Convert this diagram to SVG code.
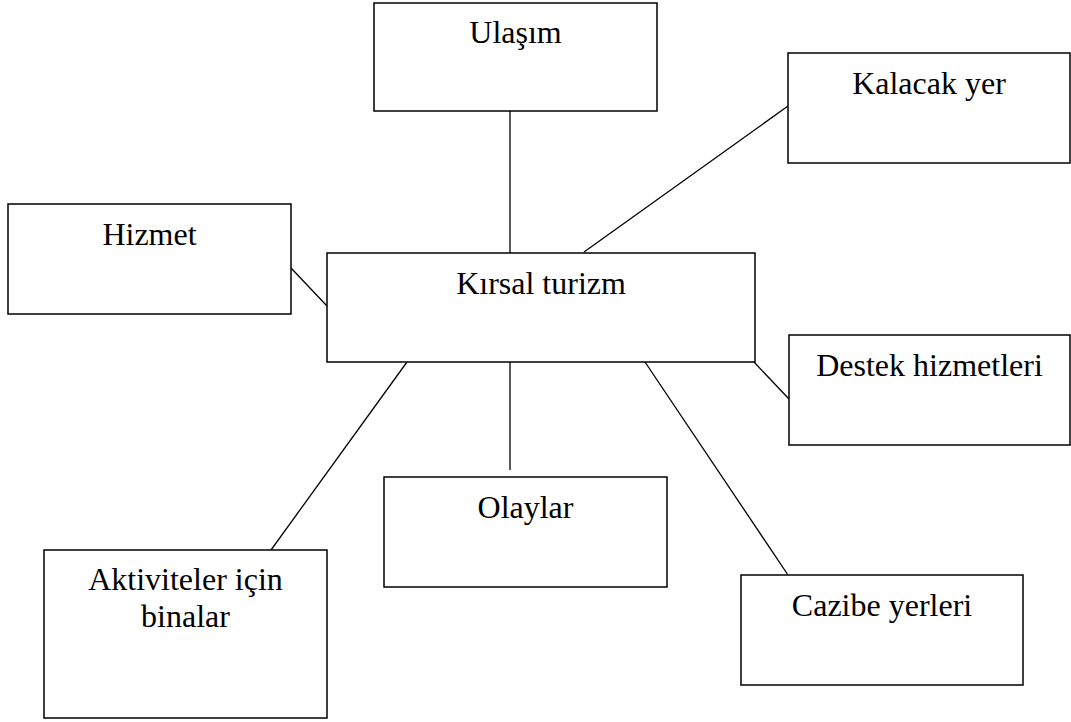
<svg xmlns="http://www.w3.org/2000/svg" width="1071" height="722" viewBox="0 0 1071 722">
<style>
.box{fill:#fff;stroke:#000;stroke-width:1.5}
.lbl{font-family:"Liberation Serif","Times New Roman",serif;font-size:32px;fill:#000;text-anchor:middle}
.con line{stroke:#000;stroke-width:1.3}
</style>
<rect width="1071" height="722" fill="#fff"/>
<g id="connectors" class="con">
<line x1="510" y1="111" x2="510" y2="253"/>
<line x1="584" y1="252" x2="788" y2="106"/>
<line x1="291" y1="268" x2="327" y2="306"/>
<line x1="754" y1="362" x2="789" y2="399"/>
<line x1="271" y1="550" x2="407" y2="362"/>
<line x1="510" y1="362" x2="510" y2="470"/>
<line x1="645" y1="362" x2="788" y2="575"/>
</g>
<g id="ulasim"><rect class="box" x="374" y="3" width="283" height="108"/><text class="lbl" x="515.5" y="43">Ulaşım</text></g>
<g id="kalacak"><rect class="box" x="788" y="53" width="282" height="110"/><text class="lbl" x="929" y="94">Kalacak yer</text></g>
<g id="hizmet"><rect class="box" x="8" y="204" width="283" height="110"/><text class="lbl" x="149.5" y="245">Hizmet</text></g>
<g id="kirsal"><rect class="box" x="327" y="253" width="428" height="109"/><text class="lbl" x="541" y="294">Kırsal turizm</text></g>
<g id="destek"><rect class="box" x="789" y="335" width="281" height="110"/><text class="lbl" x="929.5" y="376">Destek hizmetleri</text></g>
<g id="olaylar"><rect class="box" x="384" y="477" width="283" height="110"/><text class="lbl" x="525.5" y="518">Olaylar</text></g>
<g id="cazibe"><rect class="box" x="741" y="575" width="282" height="110"/><text class="lbl" x="882" y="616">Cazibe yerleri</text></g>
<g id="aktiviteler"><rect class="box" x="44" y="550" width="283" height="168"/><text class="lbl" x="185.5" y="590">Aktiviteler için</text><text class="lbl" x="185.5" y="627">binalar</text></g>
</svg>
